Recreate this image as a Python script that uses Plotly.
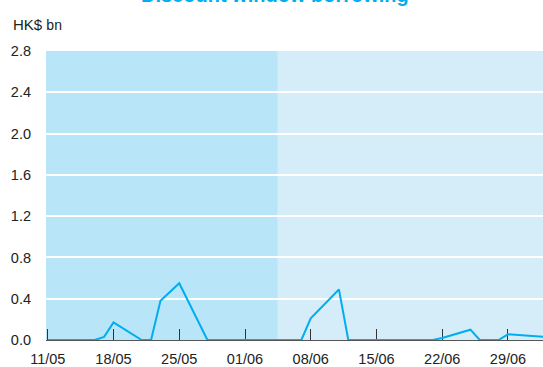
import plotly.graph_objects as go

dates = ["2012-05-11", "2012-05-14", "2012-05-15", "2012-05-16", "2012-05-17", "2012-05-18",
         "2012-05-21", "2012-05-22", "2012-05-23", "2012-05-24", "2012-05-25",
         "2012-05-28", "2012-05-29", "2012-05-30", "2012-05-31", "2012-06-01",
         "2012-06-04", "2012-06-05", "2012-06-06", "2012-06-07", "2012-06-08",
         "2012-06-11", "2012-06-12", "2012-06-13", "2012-06-14", "2012-06-15",
         "2012-06-18", "2012-06-19", "2012-06-20", "2012-06-21", "2012-06-22",
         "2012-06-25", "2012-06-26", "2012-06-27", "2012-06-28", "2012-06-29",
         "2012-07-03"]
borrowing = [0, 0, 0, 0, 0.03, 0.17,
             0, 0, 0.38, 0.465, 0.55,
             0, 0, 0, 0, 0,
             0, 0, 0, 0, 0.21,
             0.49, 0, 0, 0, 0,
             0, 0, 0, 0, 0.02,
             0.10, 0, 0, 0, 0.055,
             0.03]

tick_dates = ["2012-05-11", "2012-05-18", "2012-05-25", "2012-06-01", "2012-06-08",
              "2012-06-15", "2012-06-22", "2012-06-29"]
tick_labels = ["11/05", "18/05", "25/05", "01/06", "08/06", "15/06", "22/06", "29/06"]
y_ticks = [0.0, 0.4, 0.8, 1.2, 1.6, 2.0, 2.4, 2.8]

period_split = "2012-06-04 12:00"
x_start = "2012-05-10 19:30"
x_end = "2012-07-02 17:30"

FONT = "Liberation Sans, Arial, sans-serif"
CYAN = "#00aeef"

fig = go.Figure()
fig.add_trace(go.Scatter(x=dates, y=borrowing, mode="lines",
                         line=dict(color=CYAN, width=2), hoverinfo="skip"))

fig.add_shape(type="rect", xref="x", yref="y", x0=x_start, x1=period_split, y0=0, y1=2.8,
              fillcolor="#b9e5f8", line=dict(width=0), layer="below")
fig.add_shape(type="rect", xref="x", yref="y", x0=period_split, x1=x_end, y0=0, y1=2.8,
              fillcolor="#d5ecf9", line=dict(width=0), layer="below")

fig.update_layout(
    width=543, height=367,
    margin=dict(l=46, r=0, t=51, b=27),
    paper_bgcolor="white", plot_bgcolor="white",
    showlegend=False,
    font=dict(family=FONT, size=15, color="#222222"),
    xaxis=dict(type="date", range=[x_start, x_end], tickvals=tick_dates, ticktext=tick_labels,
               showgrid=False, ticks="inside", ticklen=11, tickwidth=1, tickcolor="#333333",
               showline=True, linecolor="#555555", linewidth=1, zeroline=False,
               ticklabelstandoff=6,
               layer="below traces", tickfont=dict(size=14.5, color="#222222")),
    yaxis=dict(range=[0, 2.8], tickvals=y_ticks, ticktext=[f"{v:.1f}" for v in y_ticks],
               showgrid=True, gridcolor="white", gridwidth=2, zeroline=False,
               showline=False, ticks="", ticklabelstandoff=14,
               layer="below traces", tickfont=dict(size=14.5, color="#222222")),
)

fig.add_annotation(text="Discount window borrowing", xref="paper", yref="paper",
                   x=(275 - 46) / 497, y=(340 + 5) / 289, xanchor="center", yanchor="middle",
                   showarrow=False, font=dict(family=FONT, size=20, color=CYAN, weight="bold"))
fig.add_annotation(text="HK$ <span style='font-size:14px'>bn</span>", xref="paper", yref="paper",
                   x=-35 / 497, y=(340 - 25) / 289, xanchor="left", yanchor="middle",
                   showarrow=False, font=dict(family=FONT, size=15, color="#222222"))

fig.write_html("out.html")
